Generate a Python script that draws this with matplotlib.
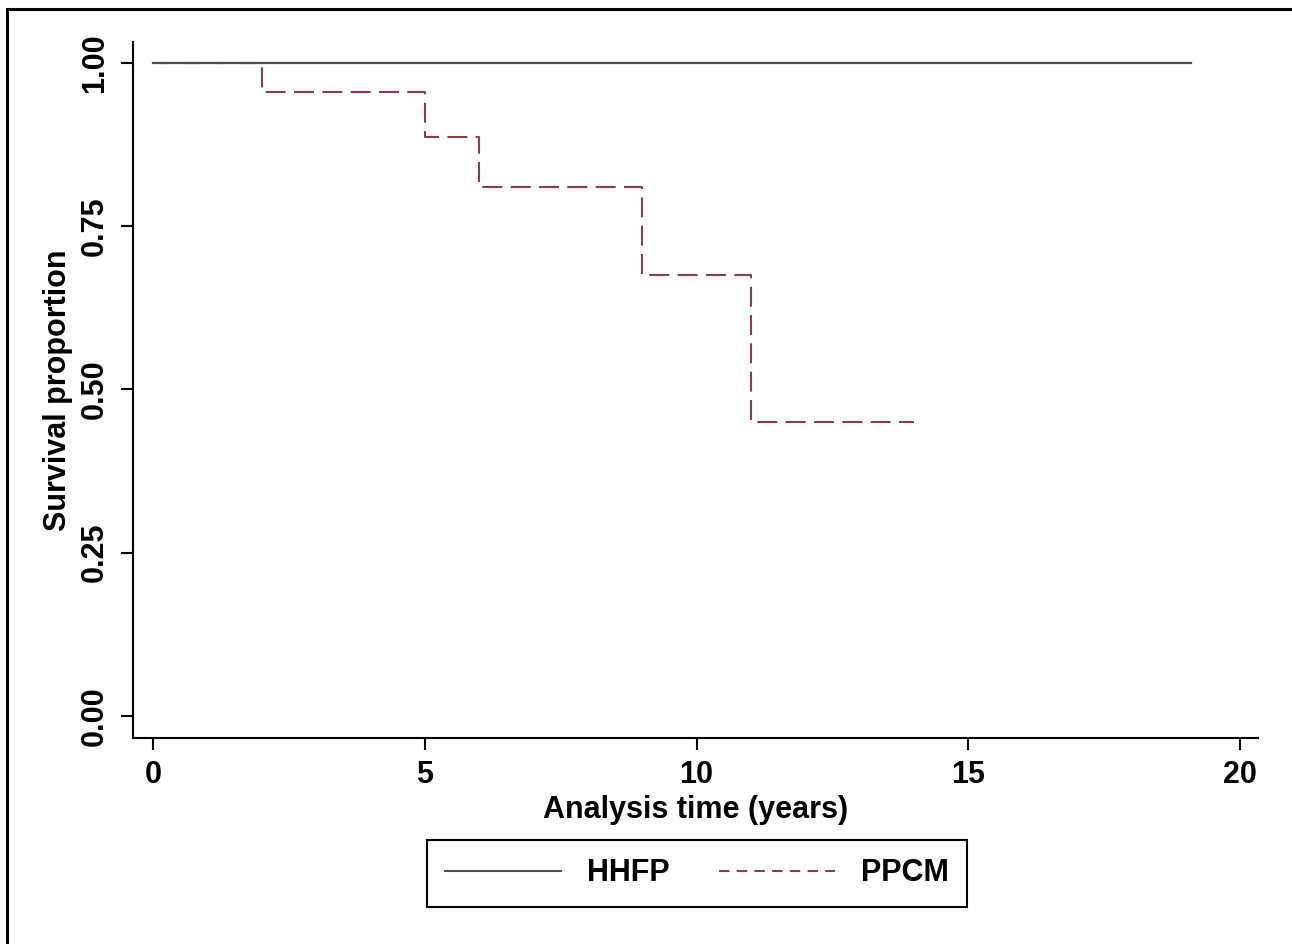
import matplotlib.pyplot as plt
from matplotlib.lines import Line2D

plt.rcParams['font.family'] = ['Liberation Sans', 'DejaVu Sans']

# Kaplan-Meier estimates
hhfp_time = [0, 19.1]
hhfp_surv = [1.0, 1.0]
ppcm_time = [0, 2, 5, 6, 9, 11, 14]
ppcm_surv = [1.0, 0.955, 0.886, 0.81, 0.675, 0.45, 0.45]

x_ticks = [0, 5, 10, 15, 20]
y_ticks = [0.00, 0.25, 0.50, 0.75, 1.00]
groups = ["HHFP", "PPCM"]

hhfp_color = "#46505a"
ppcm_color = "#8a3e48"

fig = plt.figure(figsize=(12.92, 9.44), dpi=100)
ax = fig.add_axes([0.1029, 0.2182, 0.8708, 0.7373])

ax.step(ppcm_time, ppcm_surv, where="post", color=ppcm_color, lw=1.5,
        dashes=(9.6, 4), zorder=2)
ax.step(hhfp_time, hhfp_surv, where="post", color=hhfp_color, lw=1.6, zorder=3)

ax.set_xlim(-0.37, 20.33)
ax.set_ylim(-0.034, 1.032)
ax.set_xticks(x_ticks)
ax.set_xticklabels([str(t) for t in x_ticks])
ax.set_yticks(y_ticks)
ax.set_yticklabels(["%.2f" % t for t in y_ticks], rotation=90, va="center")

for s in ["top", "right"]:
    ax.spines[s].set_visible(False)
for s in ["left", "bottom"]:
    ax.spines[s].set_linewidth(1.5)

ax.tick_params(direction="out", length=8.5, width=1.5, labelsize=22)
ax.tick_params(axis="y", pad=8)
ax.tick_params(axis="x", pad=7)
for lab in ax.get_xticklabels() + ax.get_yticklabels():
    lab.set_fontweight("bold")

ax.set_xlabel("Analysis time (years)", fontsize=22, fontweight="bold", labelpad=4)
ax.set_ylabel("Survival proportion", fontsize=22, fontweight="bold", labelpad=5)

handles = [Line2D([], [], color=hhfp_color, lw=1.5),
           Line2D([], [], color=ppcm_color, lw=1.5, dashes=(5, 3.5))]
leg = fig.legend(handles, groups, loc="center", bbox_to_anchor=(0.5395, 0.0747),
                 ncol=2, fancybox=False, framealpha=1, edgecolor="black",
                 handlelength=3.8, handletextpad=0.85, columnspacing=1.6,
                 borderpad=0.6, prop={"size": 22, "weight": "bold"})
leg.get_frame().set_linewidth(1.5)

# outer frame (only left and top edges are visible in the original crop)
fig.add_artist(Line2D([7 / 1292, 7 / 1292], [0, 1 - 9 / 944], color="black", lw=2.2,
                      transform=fig.transFigure))
fig.add_artist(Line2D([7 / 1292, 1290 / 1292], [1 - 9 / 944, 1 - 9 / 944], color="black",
                      lw=2.2, transform=fig.transFigure))

fig.savefig("out.png", dpi=100)
